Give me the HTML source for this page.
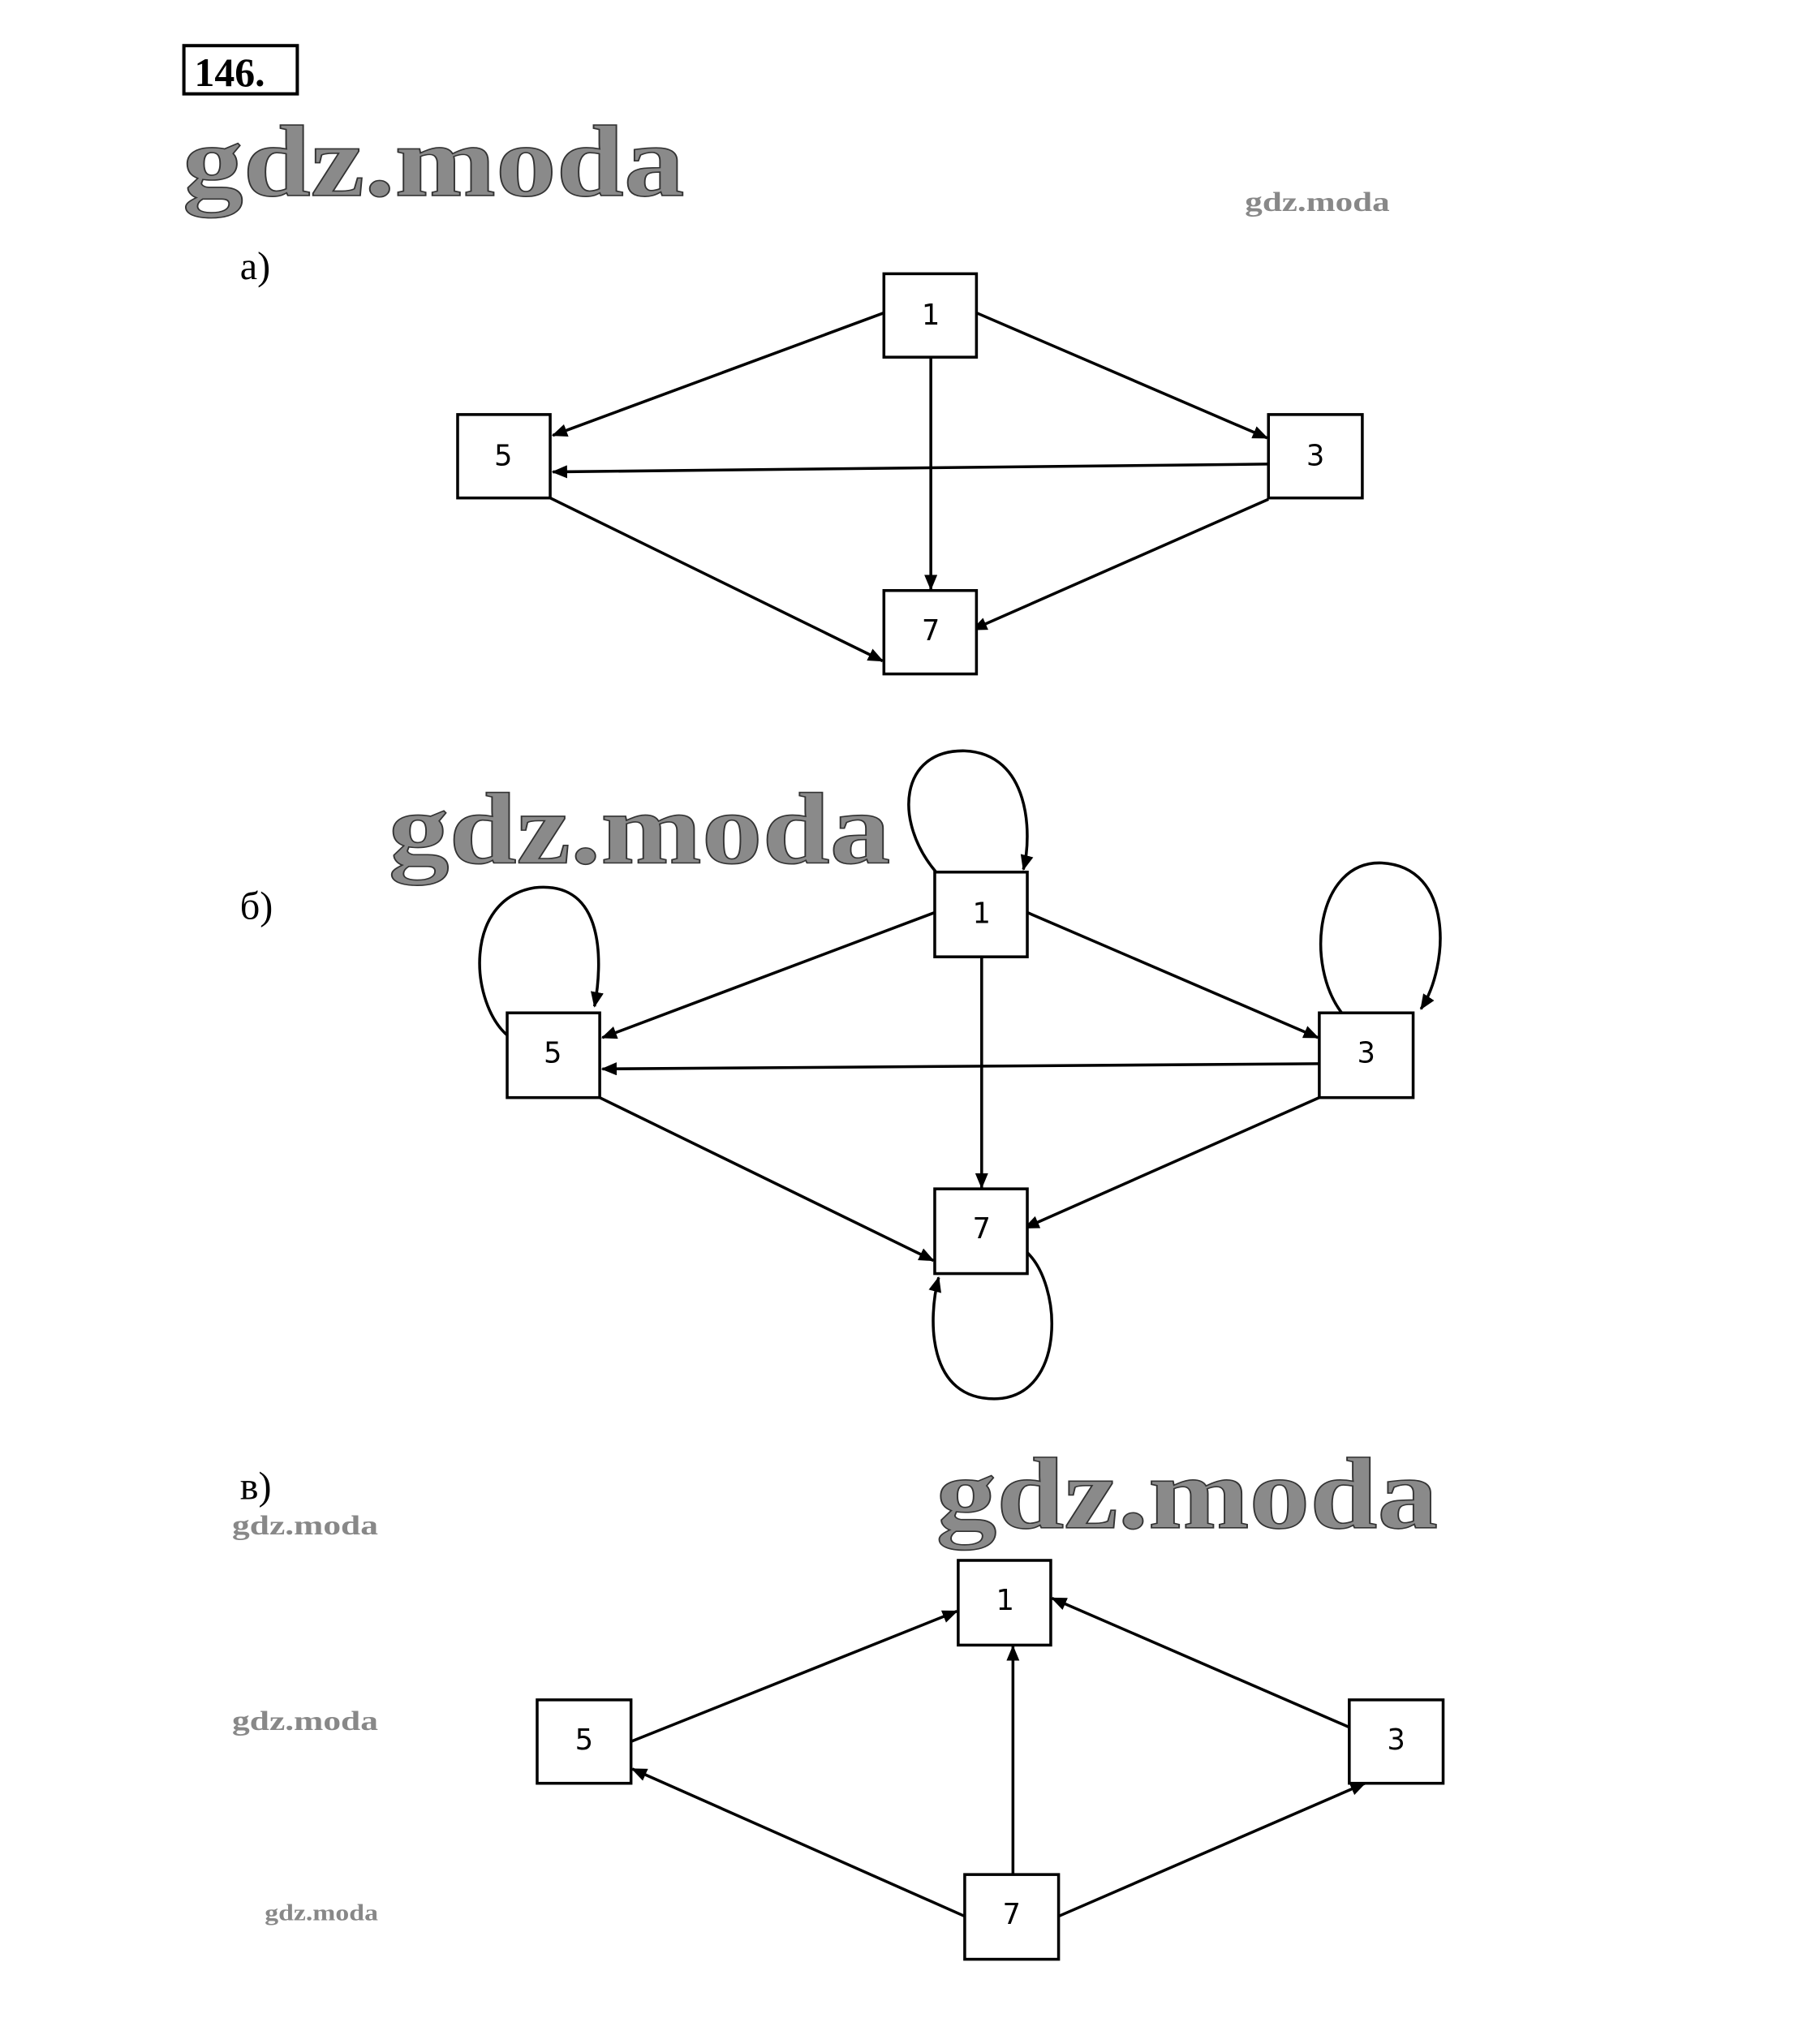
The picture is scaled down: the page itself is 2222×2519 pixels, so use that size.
<!DOCTYPE html>
<html><head><meta charset="utf-8"><style>
html,body{margin:0;padding:0;background:#fff;}
svg{display:block;}
.b{fill:#fff;stroke:#000;stroke-width:2.2;}
.e{stroke:#000;stroke-width:2.2;fill:none;marker-end:url(#ah);}
.n{font-family:"DejaVu Sans","Liberation Sans",sans-serif;font-size:22px;text-anchor:middle;fill:#000;}
.w{font-family:"Liberation Serif",serif;font-weight:bold;fill:#8a8a8a;stroke:#333;stroke-width:1;}
.ws{font-family:"Liberation Serif",serif;font-weight:bold;fill:#888;}
.l{font-family:"Liberation Serif",serif;font-size:30px;fill:#000;}
</style></head><body>
<svg width="2222" height="2519" viewBox="0 0 1383 1568" xmlns="http://www.w3.org/2000/svg">
<defs><marker id="ah" markerWidth="12" markerHeight="10" refX="11" refY="5" orient="auto" markerUnits="userSpaceOnUse"><path d="M0,0 L12,5 L0,10 z" fill="#000"/></marker></defs>
<rect width="1383" height="1568" fill="#fff"/>
<rect x="141" y="35" width="87" height="37" fill="none" stroke="#000" stroke-width="2.5"/>
<text x="149" y="66" font-family="Liberation Serif,serif" font-weight="bold" font-size="31">146.</text>
<text class="w" x="140" y="150" font-size="78" textLength="385" lengthAdjust="spacingAndGlyphs">gdz.moda</text>
<text class="ws" x="955" y="162" font-size="21" textLength="111" lengthAdjust="spacingAndGlyphs">gdz.moda</text>
<text class="l" x="184" y="214">а)</text>
<!-- a -->
<line class="e" x1="678" y1="240" x2="424" y2="334"/>
<line class="e" x1="749" y1="240" x2="972" y2="336"/>
<line class="e" x1="714" y1="274" x2="714" y2="452"/>
<line class="e" x1="973" y1="356" x2="424" y2="362"/>
<line class="e" x1="422" y1="382" x2="677" y2="507"/>
<line class="e" x1="973" y1="383" x2="746" y2="483"/>
<rect class="b" x="678" y="210" width="71" height="64"/><text class="n" x="714" y="249">1</text>
<rect class="b" x="351" y="318" width="71" height="64"/><text class="n" x="386" y="357">5</text>
<rect class="b" x="973" y="318" width="72" height="64"/><text class="n" x="1009" y="357">3</text>
<rect class="b" x="678" y="453" width="71" height="64"/><text class="n" x="714" y="491">7</text>
<!-- b -->
<text class="w" x="298" y="662" font-size="78" textLength="385" lengthAdjust="spacingAndGlyphs">gdz.moda</text>
<text class="l" x="184" y="705">б)</text>
<path class="e" d="M718,669 C685,630 690,575 740,576 C790,578 792,640 785,667"/>
<path class="e" d="M390,795 C360,770 355,690 410,681 C465,675 462,740 456,772"/>
<path class="e" d="M1030,778 C1000,740 1010,660 1060,662 C1115,665 1112,740 1090,774"/>
<path class="e" d="M787,960 C815,985 818,1070 765,1073 C710,1075 712,1010 720,980"/>
<line class="e" x1="717" y1="700" x2="462" y2="796"/>
<line class="e" x1="788" y1="700" x2="1011" y2="796"/>
<line class="e" x1="753" y1="734" x2="753" y2="911"/>
<line class="e" x1="1012" y1="816" x2="462" y2="820"/>
<line class="e" x1="460" y1="842" x2="716" y2="967"/>
<line class="e" x1="1012" y1="842" x2="786" y2="942"/>
<rect class="b" x="717" y="669" width="71" height="65"/><text class="n" x="753" y="708">1</text>
<rect class="b" x="389" y="777" width="71" height="65"/><text class="n" x="424" y="815">5</text>
<rect class="b" x="1012" y="777" width="72" height="65"/><text class="n" x="1048" y="815">3</text>
<rect class="b" x="717" y="912" width="71" height="65"/><text class="n" x="753" y="950">7</text>
<!-- c -->
<text class="l" x="184" y="1150">в)</text>
<text class="ws" x="178" y="1177" font-size="21" textLength="112" lengthAdjust="spacingAndGlyphs">gdz.moda</text>
<text class="ws" x="178" y="1327" font-size="21" textLength="112" lengthAdjust="spacingAndGlyphs">gdz.moda</text>
<text class="ws" x="203" y="1473" font-size="18" textLength="87" lengthAdjust="spacingAndGlyphs">gdz.moda</text>
<text class="w" x="718" y="1172" font-size="78" textLength="385" lengthAdjust="spacingAndGlyphs">gdz.moda</text>
<line class="e" x1="484" y1="1336" x2="734" y2="1236"/>
<line class="e" x1="1035" y1="1325" x2="807" y2="1226"/>
<line class="e" x1="777" y1="1438" x2="777" y2="1263"/>
<line class="e" x1="740" y1="1470" x2="485" y2="1357"/>
<line class="e" x1="812" y1="1470" x2="1047" y2="1368"/>
<rect class="b" x="735" y="1197" width="71" height="65"/><text class="n" x="771" y="1235">1</text>
<rect class="b" x="412" y="1304" width="72" height="64"/><text class="n" x="448" y="1342">5</text>
<rect class="b" x="1035" y="1304" width="72" height="64"/><text class="n" x="1071" y="1342">3</text>
<rect class="b" x="740" y="1438" width="72" height="65"/><text class="n" x="776" y="1476">7</text>
</svg>
</body></html>
